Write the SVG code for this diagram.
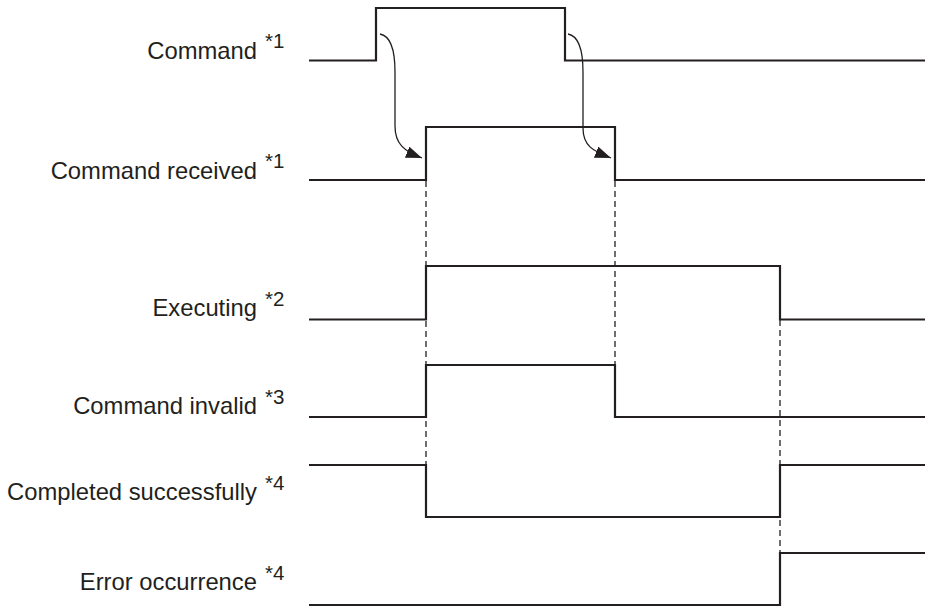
<svg xmlns="http://www.w3.org/2000/svg" width="925" height="608" viewBox="0 0 925 608">
<style>
.sig{fill:none;stroke:#231f20;stroke-width:2.2;stroke-linejoin:miter}
.dash{fill:none;stroke:#231f20;stroke-width:1.3;stroke-dasharray:6,4}
.arr{fill:none;stroke:#231f20;stroke-width:1.3}
.lbl{font-family:"Liberation Sans",Arial,sans-serif;font-size:23.8px;fill:#231f20;text-anchor:end}
.sup{font-family:"Liberation Sans",Arial,sans-serif;font-size:20.5px;fill:#231f20}
</style>
<defs>
<marker id="ah" viewBox="0 0 16 12" refX="16" refY="6" markerWidth="16" markerHeight="12" markerUnits="userSpaceOnUse" orient="auto">
<path d="M0,0 L16,6 L0,12 Z" fill="#231f20"/>
</marker>
</defs>
<rect width="925" height="608" fill="#fff"/>
<g id="connectors">
<path class="dash" d="M426,181 V465"/>
<path class="dash" d="M615,181 V365"/>
<path class="dash" d="M780,320 V553"/>
<path class="arr" d="M380,34 C391,36 395,50 395,72 L395,126 C395,144 404,151 422,158" marker-end="url(#ah)"/>
<path class="arr" d="M568,34 C579,36 583,50 583,72 L583,128 C583,146 593,151 611,158" marker-end="url(#ah)"/>
</g>
<g id="command">
<path class="sig" d="M309,60.5 H376 V8 H565 V60.5 H925"/>
<text class="lbl" x="257" y="59">Command</text>
<text class="sup" x="265" y="48">*1</text>
</g>
<g id="command-received">
<path class="sig" d="M309,180 H426 V127 H615 V180 H925"/>
<text class="lbl" x="257" y="179">Command received</text>
<text class="sup" x="265" y="168">*1</text>
</g>
<g id="executing">
<path class="sig" d="M309,319.5 H426 V266 H780 V319.5 H925"/>
<text class="lbl" x="257" y="316">Executing</text>
<text class="sup" x="265" y="306">*2</text>
</g>
<g id="command-invalid">
<path class="sig" d="M309,417 H426 V365 H615 V417 H925"/>
<text class="lbl" x="257" y="414">Command invalid</text>
<text class="sup" x="265" y="404">*3</text>
</g>
<g id="completed-successfully">
<path class="sig" d="M309,465 H426 V517 H780 V465 H925"/>
<text class="lbl" x="257" y="500">Completed successfully</text>
<text class="sup" x="265" y="490">*4</text>
</g>
<g id="error-occurrence">
<path class="sig" d="M309,605 H780 V553 H925"/>
<text class="lbl" x="257" y="590">Error occurrence</text>
<text class="sup" x="265" y="580">*4</text>
</g>
</svg>
